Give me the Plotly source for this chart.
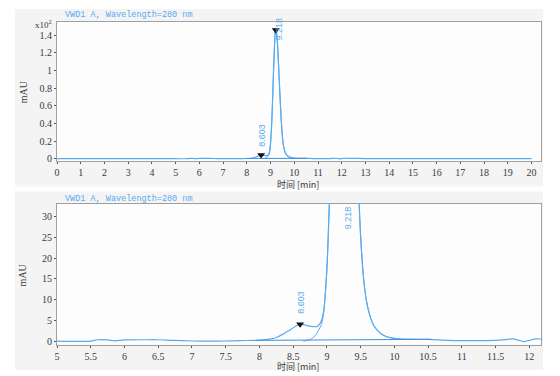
import plotly.graph_objects as go

# ---------------- data ----------------
time_min = [0.0, 1.0, 2.0, 3.0, 4.0, 5.0, 5.5, 5.6, 5.75, 5.85, 6.0, 6.3, 6.5, 6.7,
            7.0, 7.3, 7.5, 7.7, 8.0, 8.15, 8.25, 8.35, 8.45, 8.55, 8.6, 8.65, 8.72,
            8.8, 8.85, 8.9, 8.95, 9.0, 9.05, 9.1, 9.15, 9.2, 9.218, 9.25, 9.3, 9.35,
            9.4, 9.45, 9.5, 9.55, 9.6, 9.65, 9.7, 9.8, 9.9, 10.0, 10.2, 10.5, 10.8,
            11.0, 11.5, 11.6, 11.75, 11.85, 11.92, 12.0, 12.1, 12.2, 13.0, 15.0, 20.0]
signal_mau = [0.0, 0.0, 0.05, 0.0, 0.05, 0.0, 0.0, 0.35, 0.3, 0.1, 0.3, 0.35, 0.35, 0.2,
              0.05, 0.0, 0.05, 0.15, 0.25, 0.5, 0.9, 1.7, 2.7, 3.7, 4.0, 4.0, 3.7,
              3.5, 3.5, 4.3, 7.0, 17.5, 41.0, 78.0, 118.0, 144.0, 146.0, 143.0, 127.0, 99.0,
              70.0, 44.0, 25.0, 14.0, 8.5, 5.5, 3.6, 1.8, 1.0, 0.7, 0.5, 0.45, 0.2,
              0.15, 0.2, 0.3, 0.55, 0.2, -0.1, 0.2, 0.55, 0.5, 0.2, 0.05, 0.0]

main_time = [8.65, 8.75, 8.82, 8.87, 8.92, 8.95, 9.0, 9.05, 9.1, 9.15, 9.2, 9.218,
             9.25, 9.3, 9.35, 9.4, 9.45, 9.5, 9.55, 9.6, 9.65, 9.7, 9.8, 9.9, 10.0]
main_mau = [0.0, 0.4, 1.2, 2.5, 4.0, 6.5, 17.5, 41.0, 78.0, 118.0, 144.0, 146.0,
            143.0, 127.0, 99.0, 70.0, 44.0, 25.0, 14.0, 8.5, 5.5, 3.6, 1.8, 1.0, 0.7]

baseline_time = [7.95, 10.55]
baseline_mau = [0.2, 0.45]

peak_rt = [8.603, 9.218]
peak_mau = [4.1, 146.0]

top_xticks = list(range(0, 21))
top_ytickvals = [0, 20, 40, 60, 80, 100, 120, 140]
top_yticktext = ["0", "0.2", "0.4", "0.6", "0.8", "1", "1.2", "1.4"]
bot_xticks = [5, 5.5, 6, 6.5, 7, 7.5, 8, 8.5, 9, 9.5, 10, 10.5, 11, 11.5, 12]
bot_yticks = [0, 5, 10, 15, 20, 25, 30]
signal_title = "VWD1 A, Wavelength=280 nm"
x_title = "时间 [min]"
y_title = "mAU"

# ---------------- styling ----------------
W, H = 560, 376
LINE = "#5aaaf0"
LABEL = "#5aaaf0"
TICKFONT = dict(family="Liberation Serif", size=10, color="#3a3a3a")

def px(xp):
    return xp / W

def py(yp):
    return 1 - yp / H

fig = go.Figure()

for xa, ya in (("x", "y"), ("x2", "y2")):
    fig.add_trace(go.Scatter(x=time_min, y=signal_mau, mode="lines", xaxis=xa, yaxis=ya,
                             line=dict(color=LINE, width=1.2, shape="spline", smoothing=0.6),
                             showlegend=False, hoverinfo="skip"))
    fig.add_trace(go.Scatter(x=main_time, y=main_mau, mode="lines", xaxis=xa, yaxis=ya,
                             line=dict(color=LINE, width=1.0, shape="spline", smoothing=0.6),
                             showlegend=False, hoverinfo="skip"))
    fig.add_trace(go.Scatter(x=baseline_time, y=baseline_mau, mode="lines", xaxis=xa, yaxis=ya,
                             line=dict(color="#3f8fe0", width=1.0),
                             showlegend=False, hoverinfo="skip"))
    fig.add_trace(go.Scatter(x=peak_rt, y=peak_mau, mode="markers", xaxis=xa, yaxis=ya,
                             marker=dict(symbol="triangle-down", size=7, color="#111111"),
                             showlegend=False, hoverinfo="skip", cliponaxis=True))

axis_common = dict(showline=True, linecolor="#a0a0a0", linewidth=1, mirror=True,
                   ticks="outside", ticklen=2, tickcolor="#555555", showgrid=False,
                   zeroline=False, tickfont=TICKFONT)

fig.update_layout(
    width=W, height=H, margin=dict(l=0, r=0, t=0, b=0),
    paper_bgcolor="white", plot_bgcolor="white",
    xaxis=dict(domain=[px(54.3), px(540.7)], range=[0, 20.39], tickvals=top_xticks,
               anchor="y", **axis_common),
    yaxis=dict(domain=[py(162.3), py(21.7)], range=[-2.6, 155.7], tickvals=top_ytickvals,
               ticktext=top_yticktext, anchor="x", **axis_common),
    xaxis2=dict(domain=[px(54.3), px(540.7)], range=[5, 12.17], tickvals=bot_xticks,
                ticktext=[("%g" % v) for v in bot_xticks], anchor="y2", **axis_common),
    yaxis2=dict(domain=[py(347.3), py(206)], range=[-0.8, 32.9], tickvals=bot_yticks,
                anchor="x2", **axis_common),
)

# panels (light grey frames) and white plot areas
shapes = []
for y0, y1 in ((9, 188), (193, 373)):
    shapes.append(dict(type="rect", xref="paper", yref="paper", x0=px(12), x1=px(543),
                       y0=py(y1), y1=py(y0), fillcolor="#f4f4f4", line=dict(width=0),
                       layer="below"))
for xr, yr in (("x domain", "y domain"), ("x2 domain", "y2 domain")):
    shapes.append(dict(type="rect", xref=xr, yref=yr, x0=0, x1=1, y0=0, y1=1,
                       fillcolor="#fdfdfd", line=dict(width=0), layer="below"))
fig.update_layout(shapes=shapes)

ann = []
title_font = dict(family="Liberation Mono", size=8.5, color=LABEL)
for yp in (15.5, 200.5):
    ann.append(dict(text=signal_title, xref="paper", yref="paper", x=px(60), y=py(yp),
                    xanchor="left", yanchor="middle", showarrow=False, font=title_font))
axt_font = dict(family="Noto Sans CJK SC", size=9, color="#3a3a3a")
for yp in (185.5, 369.5):
    ann.append(dict(text=x_title, xref="paper", yref="paper", x=px(297), y=py(yp),
                    xanchor="center", yanchor="middle", showarrow=False, font=axt_font))
yt_font = dict(family="Liberation Serif", size=10, color="#3a3a3a")
for yp in (92, 276.7):
    ann.append(dict(text=y_title, xref="paper", yref="paper", x=px(20), y=py(yp),
                    xanchor="center", yanchor="middle", textangle=-90, showarrow=False,
                    font=yt_font))
ann.append(dict(text="x10<sup>2</sup>", xref="paper", yref="paper", x=px(51), y=py(24.5),
                xanchor="right", yanchor="middle", showarrow=False,
                font=dict(family="Liberation Serif", size=9, color="#3a3a3a")))

pk_font = dict(family="Liberation Sans", size=9, color=LABEL)
# top panel labels
top_shift = [(0, 6), (3.5, -12.6)]
for rt, h, (dx, dy) in zip(peak_rt, peak_mau, top_shift):
    ann.append(dict(text="%.3f" % rt, xref="x", yref="y", x=rt, y=h, xshift=dx, yshift=dy,
                    xanchor="center", yanchor="bottom", textangle=-90, showarrow=False,
                    font=pk_font))
# bottom panel labels
ann.append(dict(text="%.3f" % peak_rt[0], xref="x2", yref="y2", x=peak_rt[0], y=peak_mau[0],
                xshift=1, yshift=8, xanchor="center", yanchor="bottom", textangle=-90,
                showarrow=False, font=pk_font))
ann.append(dict(text="%.3f" % peak_rt[1], xref="x2", yref="y2 domain", x=peak_rt[1], y=1,
                xshift=6.7, yshift=0, xanchor="center", yanchor="top", textangle=-90,
                showarrow=False, font=pk_font))
fig.update_layout(annotations=ann)

fig.write_html("out.html")
